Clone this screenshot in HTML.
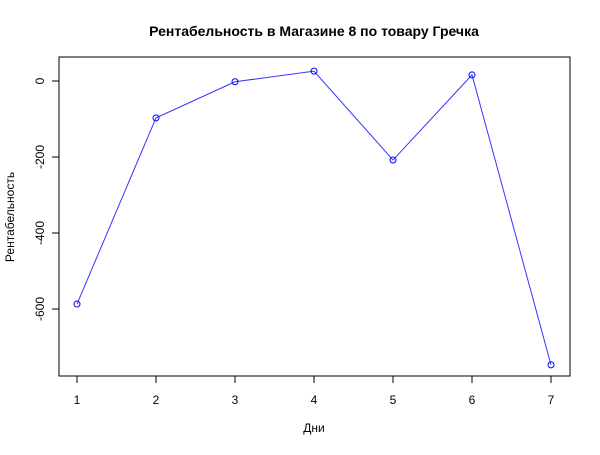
<!DOCTYPE html>
<html><head><meta charset="utf-8">
<style>
html,body{margin:0;padding:0;background:#fff;}
svg text{font-family:"Liberation Sans","DejaVu Sans",sans-serif;}
</style></head>
<body>
<svg id="chart" width="600" height="450" xmlns="http://www.w3.org/2000/svg">
<text x="314" y="36" text-anchor="middle" font-size="14" font-weight="bold">Рентабельность в Магазине 8 по товару Гречка</text>
<rect x="59" y="57" width="511" height="319" fill="none" stroke="#000" stroke-width="1"/>
<g id="xaxis"></g>
<g id="yaxis"></g>
<text x="314" y="432" text-anchor="middle" font-size="12">Дни</text>
<text x="14" y="217" text-anchor="middle" font-size="12" transform="rotate(-90 14 217)">Рентабельность</text>
<g id="series"></g>
</svg>
<script>
const days = [1,2,3,4,5,6,7];
const values = [-587,-97,-2,26,-208,16,-747];
const xTicks = [1,2,3,4,5,6,7];
const yTicks = [0,-200,-400,-600];

const NS="http://www.w3.org/2000/svg";
function xs(d){return 77+(d-1)*(551-77)/6;}
function ys(v){return 81-v*0.38;}
function mk(t,a,p){const e=document.createElementNS(NS,t);for(const k in a)e.setAttribute(k,a[k]);p.appendChild(e);return e;}

const xa=document.getElementById('xaxis');
mk('line',{x1:xs(xTicks[0]),x2:xs(xTicks[xTicks.length-1]),y1:376,y2:376,stroke:'#000'},xa);
xTicks.forEach(t=>{
  const l=mk('line',{x1:xs(t),x2:xs(t),y1:376,y2:383,stroke:'#000'},xa);
  
  
  const tx=mk('text',{x:xs(t),y:404,'text-anchor':'middle','font-size':12},xa);
  
  
  tx.textContent=t;
});
const ya=document.getElementById('yaxis');
mk('line',{x1:59,x2:59,y1:ys(yTicks[0]),y2:ys(yTicks[yTicks.length-1]),stroke:'#000'},ya);
yTicks.forEach(t=>{
  const l=mk('line',{x1:52,x2:59,y1:ys(t),y2:ys(t),stroke:'#000'},ya);
  
  
  const tx=mk('text',{x:44,y:ys(t),'text-anchor':'middle','font-size':12,transform:`rotate(-90 44 ${ys(t)})`},ya);
  
  
  tx.textContent=t;
});
const s=document.getElementById('series');
const pts=days.map((d,i)=>xs(d)+','+ys(values[i])).join(' ');
const pl=mk('polyline',{points:pts,fill:'none',stroke:'#3333ff','stroke-width':1},s);


days.forEach((d,i)=>{
  const c=mk('circle',{cx:xs(d),cy:ys(values[i]),r:3,fill:'none',stroke:'#0000ff','stroke-width':1},s);
  
  
});
</script>
</body></html>
